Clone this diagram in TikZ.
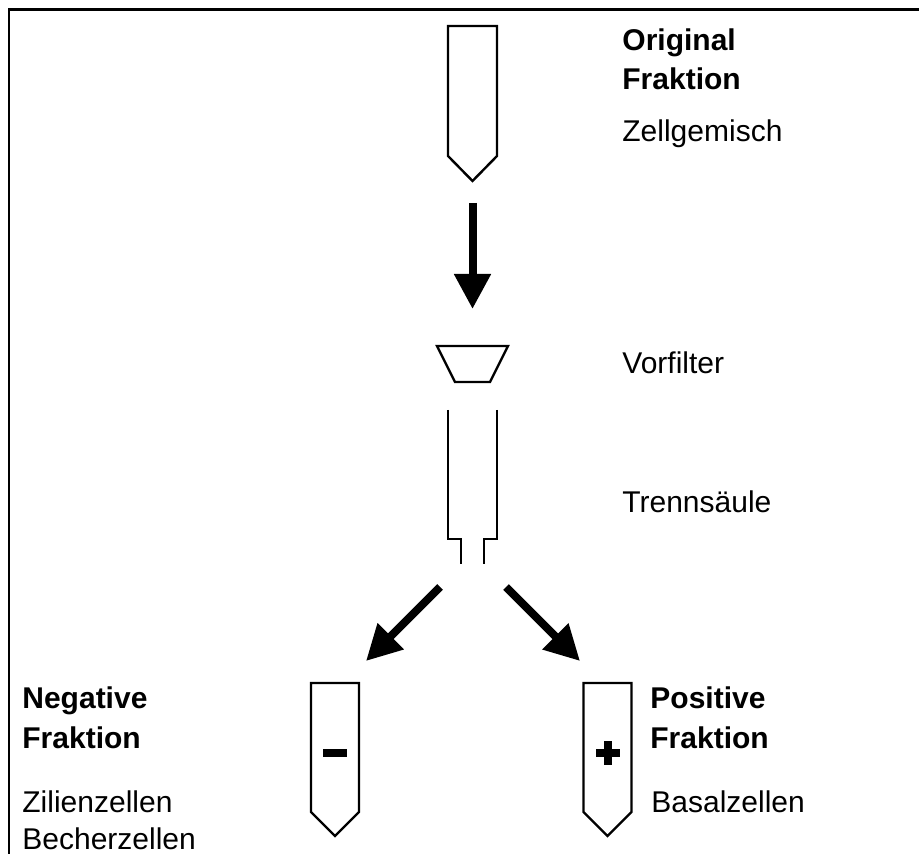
\documentclass[tikz,border=0pt]{standalone}
\usepackage{fontspec}
\setmainfont{Liberation Sans}
\usetikzlibrary{arrows.meta}
\begin{document}
\begin{tikzpicture}[x=0.5pt,y=-0.5pt,
  frame/.style={line width=1.1pt},
  vessel/.style={line width=1.2pt, line join=miter, fill=white},
  flow/.style={line width=4pt, -{Triangle[length=17.5pt,width=17.5pt]}},
  bold/.style={anchor=base west, inner sep=0pt, font=\fontsize{15pt}{19.5pt}\selectfont\bfseries},
  plain/.style={anchor=base west, inner sep=0pt, font=\fontsize{15pt}{19.5pt}\selectfont},
  sign/.style={fill=black}]
\useasboundingbox (0,0) rectangle (919,854);
% frame (cut off at right and bottom)
\draw[frame] (9,854) -- (9,9.5) -- (919,9.5);
% top tube
\draw[vessel] (448,26) -- (497,26) -- (497,156) -- (472.5,181) -- (448,156) -- cycle;
% vertical arrow
\coordinate (a1) at (472.5,203);
\coordinate (a2) at (472.5,309);
\draw[flow] (a1) -- (a2);
% prefilter
\draw[vessel] (437,346) -- (508,346) -- (490,382) -- (455,382) -- cycle;
% column
\draw[vessel,fill=none] (448,410) -- (448,539) -- (461,539) -- (461,564);
\draw[vessel,fill=none] (497,410) -- (497,539) -- (484,539) -- (484,564);
% diagonal arrows
\coordinate (l1) at (440,587);
\coordinate (l2) at (366,661);
\coordinate (r1) at (506,587);
\coordinate (r2) at (580,661);
\draw[flow] (l1) -- (l2);
\draw[flow] (r1) -- (r2);
% negative tube
\draw[vessel] (311,683) -- (359,683) -- (359,812) -- (335,836) -- (311,812) -- cycle;
\fill[sign] (323,749) rectangle (347,757);
% positive tube
\draw[vessel] (583.5,683) -- (631.5,683) -- (631.5,812) -- (607.5,836) -- (583.5,812) -- cycle;
\fill[sign] (596,749) rectangle (620,757);
\fill[sign] (604,741) rectangle (612,765);
% texts
\node[bold] (t1) at (622,51) {Original};
\node[bold] (t2) at (622,90) {Fraktion};
\node[plain] (t3) at (622,142) {Zellgemisch};
\node[plain] (t4) at (622,374) {Vorfilter};
\node[plain] (t5) at (622,512) {Trennsäule};
\node[bold] (t6) at (22,708) {Negative};
\node[bold] (t7) at (22,748) {Fraktion};
\node[plain] (t8) at (22,812) {Zilienzellen};
\node[plain] (t9) at (22,849) {Becherzellen};
\node[bold] (t10) at (650,708) {Positive};
\node[bold] (t11) at (650,748) {Fraktion};
\node[plain] (t12) at (651,812) {Basalzellen};
\end{tikzpicture}
\end{document}
